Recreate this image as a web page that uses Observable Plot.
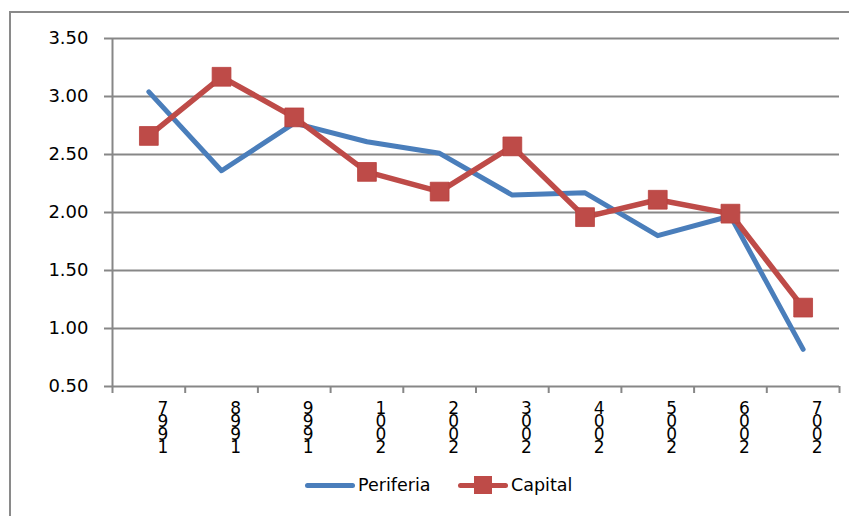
<!DOCTYPE html>
<html>
<head>
<meta charset="utf-8">
<script src="https://cdn.jsdelivr.net/npm/d3@7"></script>
<script src="https://cdn.jsdelivr.net/npm/@observablehq/plot@0.6"></script>
<style>
  html, body { margin: 0; padding: 0; background: #fff; }
  #wrap { position: relative; width: 849px; height: 516px; overflow: hidden; font-family: "DejaVu Sans", sans-serif; }
  #border { position: absolute; left: 9px; top: 11px; width: 900px; height: 600px; border-left: 2px solid #8a8a8a; border-top: 2px solid #8a8a8a; }
  #chart { position: absolute; left: 0; top: 0; }
  #legend { position: absolute; left: 0; top: 470px; width: 849px; height: 46px; }
  .item { position: absolute; top: 4px; font-size: 17.5px; color: #000; display: flex; align-items: center; height: 22px; }
  .swatch { position: relative; width: 50px; height: 22px; margin-right: 3px; }
  .swatch .ln { position: absolute; left: 0; right: 0; top: 8.5px; height: 5px; border-radius: 2.5px; }
  .swatch .sq { position: absolute; left: 16px; top: 2px; width: 18px; height: 18px; }
</style>
</head>
<body>
<div id="wrap">
  <div id="border"></div>
  <div id="chart"></div>
  <div id="legend"></div>
</div>
<script>
// Years on the category axis; each label is drawn as a column of its digits, last digit on top
const years = ["1997", "1998", "1999", "2001", "2002", "2003", "2004", "2005", "2006", "2007"];
const periferia = [3.04, 2.36, 2.77, 2.61, 2.51, 2.15, 2.17, 1.80, 1.97, 0.82];
const capital = [2.66, 3.17, 2.82, 2.35, 2.18, 2.57, 1.96, 2.11, 1.99, 1.18];
const yTicks = [0.5, 1.0, 1.5, 2.0, 2.5, 3.0, 3.5];

const seriesNames = ["Periferia", "Capital"];
const colors = {Periferia: "#4A7EBB", Capital: "#BE4B48"};

const rows = (vals) => vals.map((v, i) => ({i: i + 0.5, v}));
const per = rows(periferia);
const cap = rows(capital);
const grid = "#878787";

const chart = Plot.plot({
  width: 849,
  height: 470,
  marginLeft: 112,
  marginRight: 10,
  marginTop: 38,
  marginBottom: 84,
  style: {fontFamily: "DejaVu Sans, sans-serif", background: "transparent", overflow: "visible"},
  x: {domain: [0, years.length], axis: null},
  y: {domain: [0.5, 3.5], axis: null},
  marks: [
    Plot.ruleY(yTicks, {stroke: grid, strokeWidth: 2}),
    Plot.ruleX([0], {y1: 0.5, y2: 3.5, stroke: grid, strokeWidth: 2}),
    Plot.axisY({
      ticks: yTicks, tickSize: 8, tickPadding: 16, stroke: grid, strokeWidth: 2,
      tickFormat: d3.format(".2f"), fontSize: 18, fill: "#000", label: null
    }),
    Plot.axisX({
      ticks: d3.range(0, years.length + 1), tickSize: 7, stroke: grid, strokeWidth: 2,
      tickFormat: () => "", label: null
    }),
    Plot.text(years, {
      x: (d, i) => i + 0.5, y: () => 0.5,
      text: d => d.split("").reverse().join("\n"),
      lineAnchor: "top", lineHeight: 0.77, dx: 14, dy: 18,
      fontSize: 17, fill: "#000"
    }),
    Plot.line(per, {x: "i", y: "v", stroke: colors.Periferia, strokeWidth: 5, strokeLinejoin: "round", strokeLinecap: "round"}),
    Plot.line(cap, {x: "i", y: "v", stroke: colors.Capital, strokeWidth: 5.5, strokeLinejoin: "round", strokeLinecap: "round"}),
    Plot.dot(cap, {x: "i", y: "v", symbol: "square", r: 10.6, fill: colors.Capital, stroke: "#B9403d", strokeWidth: 0.8})
  ]
});
document.getElementById("chart").append(chart);

// Legend below the plot
const legend = document.getElementById("legend");
const positions = {Periferia: 305, Capital: 458};
for (const name of seriesNames) {
  const item = document.createElement("div");
  item.className = "item";
  item.style.left = positions[name] + "px";
  const sw = document.createElement("div");
  sw.className = "swatch";
  const ln = document.createElement("div");
  ln.className = "ln";
  ln.style.background = colors[name];
  sw.append(ln);
  if (name === "Capital") {
    const sq = document.createElement("div");
    sq.className = "sq";
    sq.style.background = colors[name];
    sw.append(sq);
  }
  item.append(sw);
  const label = document.createElement("span");
  label.textContent = name;
  item.append(label);
  legend.append(item);
}
</script>
</body>
</html>
